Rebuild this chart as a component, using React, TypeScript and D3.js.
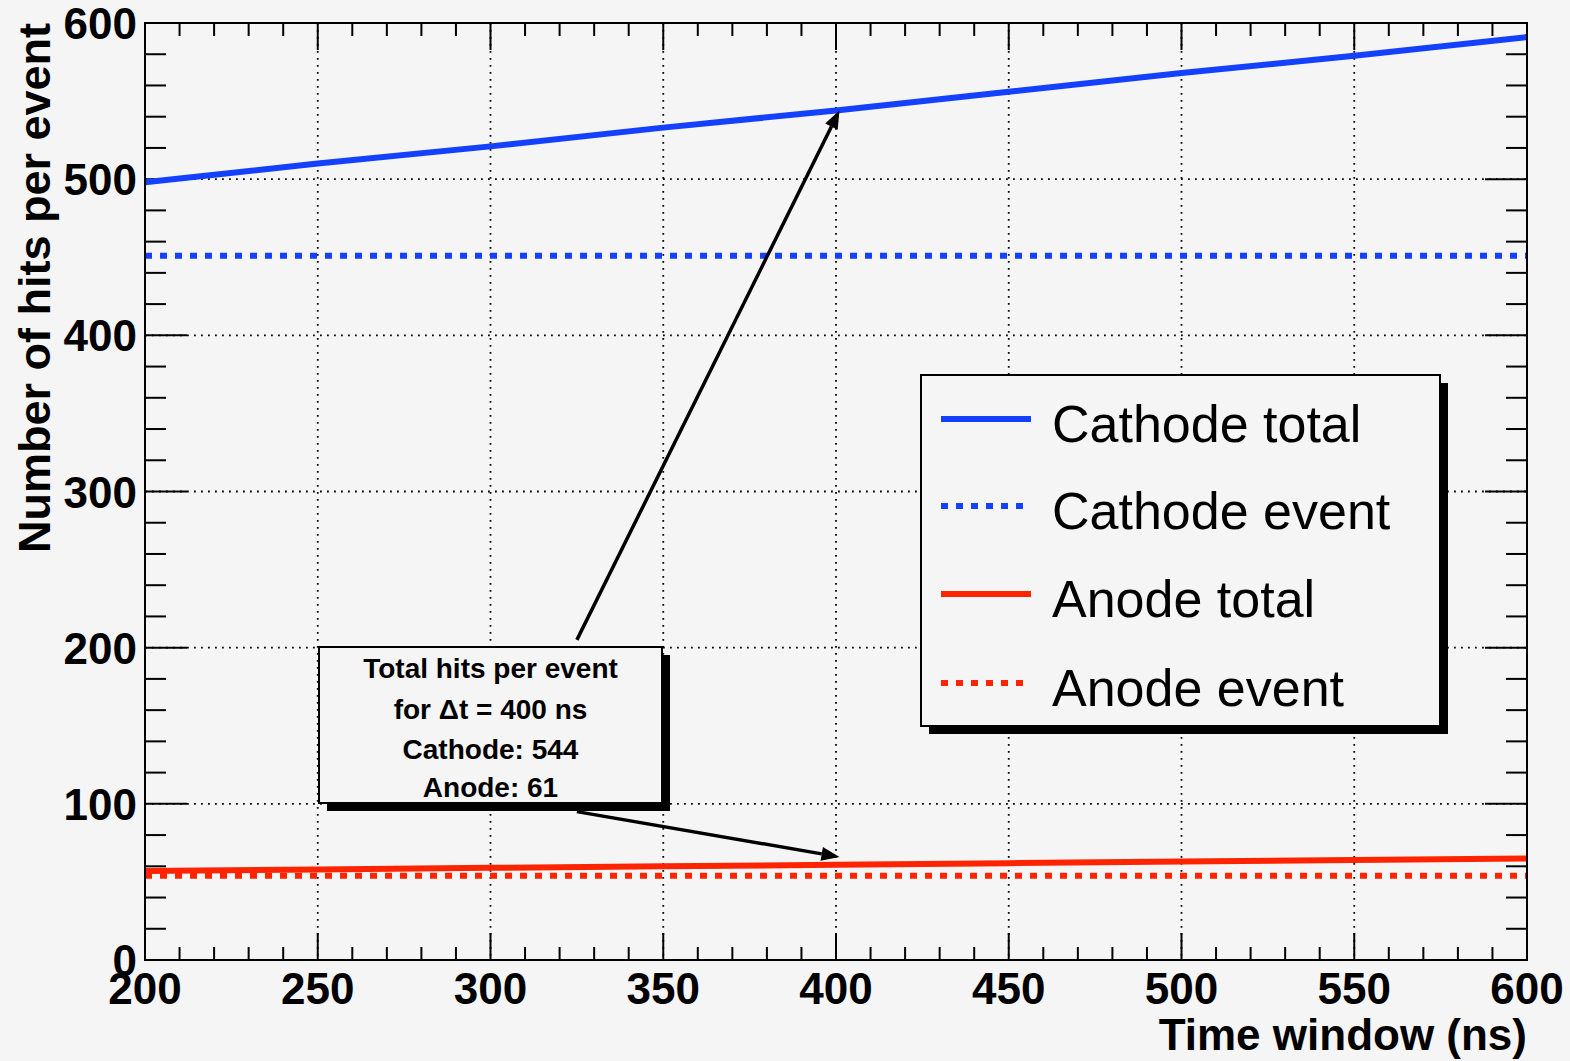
import React from 'react';
import * as d3 from 'd3';

const timeWindow = [200, 250, 300, 350, 400, 450, 500, 550, 600];
const cathodeTotal = [498, 510, 521, 533, 544, 556, 568, 579, 591];
const cathodeEvent = [451, 451, 451, 451, 451, 451, 451, 451, 451];
const anodeTotal = [57, 58, 59, 60, 61, 62, 63, 64, 65];
const anodeEvent = [54, 54, 54, 54, 54, 54, 54, 54, 54];

const xMajorTicks = [200, 250, 300, 350, 400, 450, 500, 550, 600];
const yMajorTicks = [0, 100, 200, 300, 400, 500, 600];
const xMinorStep = 10;
const yMinorStep = 20;

const seriesNames = ['Cathode total', 'Cathode event', 'Anode total', 'Anode event'];
const noteLines = ['Total hits per event', 'for \u0394t = 400 ns', 'Cathode: 544', 'Anode: 61'];
const arrowStarts = [[325, 205], [325, 95]];
const arrowEnds = [[401, 544], [401, 66]];

const BLUE = '#1440ff';
const RED = '#ff2400';
const BG = '#f5f5f5';
const FONT = '"Liberation Sans", Arial, Helvetica, sans-serif';

export default function App() {
  const W = 1570, H = 1061;
  const L = 145, R = 1527, T = 23, B = 960;
  const x = d3.scaleLinear().domain([200, 600]).range([L, R]);
  const y = d3.scaleLinear().domain([0, 600]).range([B, T]);

  const xMinor = d3.range(200, 600 + 0.001, xMinorStep);
  const yMinor = d3.range(0, 600 + 0.001, yMinorStep);

  const line = d3.line<number>().x((_, i) => x(timeWindow[i])).y((d) => y(d));

  const series = [
    { name: seriesNames[0], data: cathodeTotal, color: BLUE, dash: null },
    { name: seriesNames[1], data: cathodeEvent, color: BLUE, dash: '7 8' },
    { name: seriesNames[2], data: anodeTotal, color: RED, dash: null },
    { name: seriesNames[3], data: anodeEvent, color: RED, dash: '7 8' },
  ];

  const arrowEls = arrowStarts.map((s, i) => {
    const e = arrowEnds[i];
    const x1 = x(s[0]), y1 = y(s[1]), x2 = x(e[0]), y2 = y(e[1]);
    const ang = Math.atan2(y2 - y1, x2 - x1);
    const len = 18, half = 7;
    const bx = x2 - len * Math.cos(ang), by = y2 - len * Math.sin(ang);
    const px = -Math.sin(ang) * half, py = Math.cos(ang) * half;
    const pts = `${x2},${y2} ${bx + px},${by + py} ${bx - px},${by - py}`;
    return (
      <g key={'arr' + i}>
        <line x1={x1} y1={y1} x2={bx} y2={by} stroke="#000" strokeWidth={3.5} />
        <polygon points={pts} fill="#000" />
      </g>
    );
  });

  const lg = { x: 921, y: 375, w: 519, h: 351 };
  const legendRowY = [419, 506, 594, 683];

  const nb = { x: 319, y: 647, w: 343, h: 156 };
  const noteBaselines = [678, 719, 759, 797];

  return (
    <svg width={W} height={H} style={{ position: 'absolute', left: 0, top: 0, background: BG }}>
      <rect x={0} y={0} width={W} height={H} fill={BG} />
      <g stroke="#000" strokeWidth={1.8} strokeDasharray="1.8 5.2">
        {xMajorTicks.slice(1, -1).map((t) => (
          <line key={'gx' + t} x1={x(t)} x2={x(t)} y1={T} y2={B} />
        ))}
        {yMajorTicks.slice(1, -1).map((t) => (
          <line key={'gy' + t} x1={L} x2={R} y1={y(t)} y2={y(t)} />
        ))}
      </g>
      <g stroke="#000" strokeWidth={2}>
        {xMinor.map((t) => {
          const major = xMajorTicks.includes(t);
          const len = major ? 27 : 13;
          return (
            <g key={'tx' + t}>
              <line x1={x(t)} x2={x(t)} y1={B} y2={B - len} />
              <line x1={x(t)} x2={x(t)} y1={T} y2={T + len} />
            </g>
          );
        })}
        {yMinor.map((t) => {
          const major = yMajorTicks.includes(t);
          const len = major ? 42 : 21;
          return (
            <g key={'ty' + t}>
              <line x1={L} x2={L + len} y1={y(t)} y2={y(t)} />
              <line x1={R} x2={R - len} y1={y(t)} y2={y(t)} />
            </g>
          );
        })}
      </g>
      {series.map((s) => (
        <path
          key={s.name}
          d={line(s.data) || ''}
          fill="none"
          stroke={s.color}
          strokeWidth={6}
          strokeDasharray={s.dash || undefined}
        />
      ))}
      <rect x={L} y={T} width={R - L} height={B - T} fill="none" stroke="#000" strokeWidth={2} />
      <g fontFamily={FONT} fontWeight="bold" fontSize={44} fill="#000">
        {xMajorTicks.map((t) => (
          <text key={'lx' + t} x={x(t)} y={1004} textAnchor="middle">{t}</text>
        ))}
        {yMajorTicks.map((t) => (
          <text key={'ly' + t} x={137} y={y(t) + 16} textAnchor="end">{t}</text>
        ))}
        <text x={R} y={1050} textAnchor="end">Time window (ns)</text>
        <text transform={`translate(50,${T}) rotate(-90)`} textAnchor="end" fontSize={45}>Number of hits per event</text>
      </g>
      <rect x={lg.x + 8} y={lg.y + 8} width={lg.w} height={lg.h} fill="#000" />
      <rect x={lg.x} y={lg.y} width={lg.w} height={lg.h} fill={BG} stroke="#000" strokeWidth={2} />
      {series.map((s, i) => (
        <g key={'lg' + i}>
          <line x1={941} x2={1031} y1={legendRowY[i]} y2={legendRowY[i]} stroke={s.color} strokeWidth={6} strokeDasharray={s.dash || undefined} />
          <text x={1052} y={legendRowY[i] + 23} fontFamily={FONT} fontSize={52} fill="#000">{s.name}</text>
        </g>
      ))}
      {arrowEls}
      <rect x={nb.x + 8} y={nb.y + 8} width={nb.w} height={nb.h} fill="#000" />
      <rect x={nb.x} y={nb.y} width={nb.w} height={nb.h} fill={BG} stroke="#000" strokeWidth={2} />
      {noteLines.map((t, i) => (
        <text key={'nt' + i} x={nb.x + nb.w / 2} y={noteBaselines[i]} textAnchor="middle" fontFamily={FONT} fontWeight="bold" fontSize={28} fill="#000">{t}</text>
      ))}
    </svg>
  );
}
